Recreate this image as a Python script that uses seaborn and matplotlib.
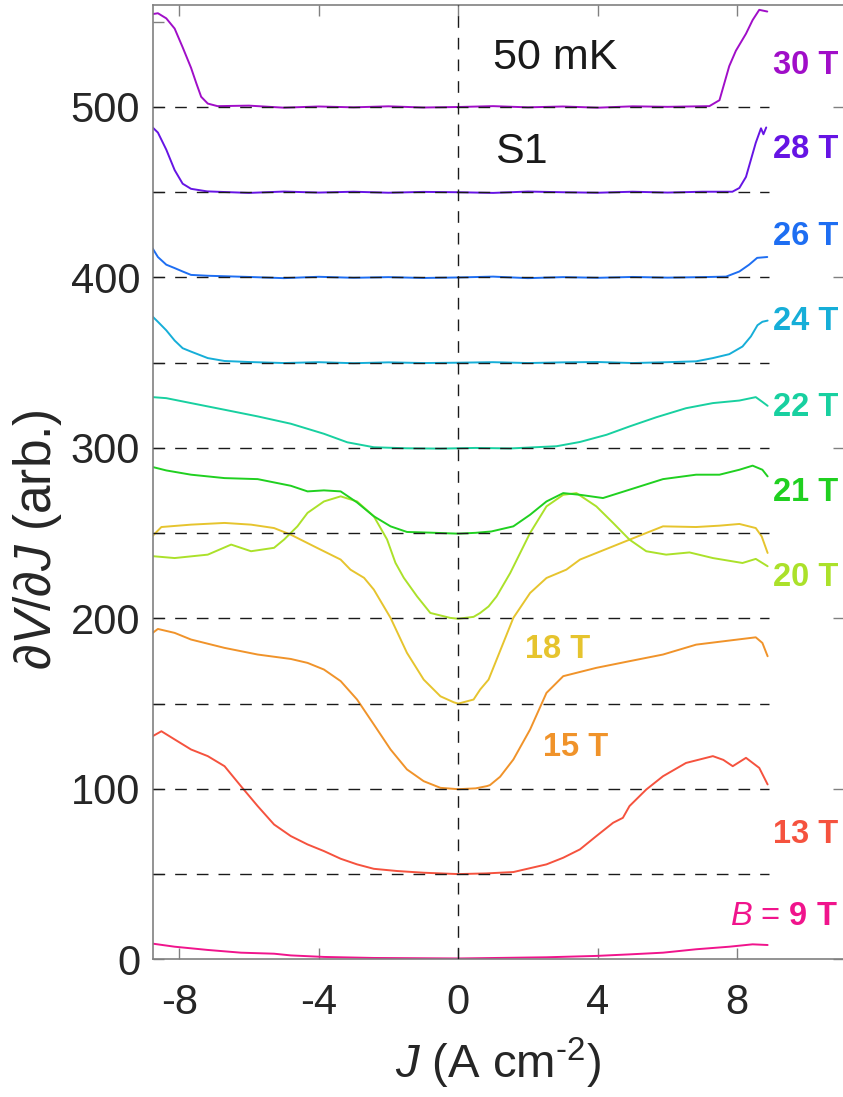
import matplotlib
matplotlib.use("Agg")
import matplotlib.pyplot as plt
from matplotlib.ticker import MultipleLocator
import seaborn as sns
import pandas as pd

# field labels, offsets and colours
fields = ["9", "13", "15", "18", "20", "21", "22", "24", "26", "28", "30"]
offsets = [0, 50, 100, 150, 200, 250, 300, 350, 400, 450, 500]
colors = ["#F0148C", "#F5523E", "#F0932A", "#E6C42E", "#ABE12A", "#20D020",
          "#18D0A0", "#16AED8", "#1E6EF2", "#6614E4", "#A00EC8"]

# curves (J in A cm^-2, dV/dJ incl. offset)
J_30 = [-8.76, -8.61, -8.37, -8.13, -7.9, -7.66, -7.51, -7.37, -7.18, -6.9, -6.0, -5.0, -4.0, -3.0,
        -2.0, -1.0, 0.0, 1.0, 2.0, 3.0, 4.0, 5.0, 6.0, 7.2, 7.49, 7.63, 7.77, 7.96, 8.25, 8.44, 8.63, 8.86]
V_30 = [554.5, 555, 552, 546, 535, 523, 514, 506, 502, 500.5, 500.8, 499.6, 500.3, 499.8,
        500.4, 499.7, 500, 500.5, 499.8, 500.3, 499.6, 500.4, 500.1, 500.5, 504, 514, 524, 533, 543, 551, 557, 556]

J_28 = [-8.76, -8.61, -8.37, -8.13, -7.9, -7.66, -7.2, -6, -5, -4, -3, -2, -1, 0, 1, 2, 3, 4, 5, 6, 7,
        7.86, 8.06, 8.25, 8.39, 8.53, 8.68, 8.75, 8.83]
V_28 = [488, 485, 475, 463, 455, 452, 450.5, 449.6, 450.4, 449.8, 450.3, 449.7, 450.2, 450, 449.6,
        450.4, 450.0, 449.7, 450.3, 449.8, 450.3, 450.3, 452.5, 459, 469, 479, 487.5, 484, 488]

J_26 = [-8.76, -8.61, -8.37, -8.13, -7.9, -7.66, -7.18, -6, -5, -4, -3, -2, -1, 0, 1, 2, 3, 4, 5, 6, 7,
        7.68, 8.06, 8.34, 8.57, 8.86]
V_26 = [417, 412, 407.5, 405.5, 403.5, 401.5, 401, 400.3, 399.6, 400.4, 399.8, 400.2, 399.7, 400,
        400.5, 399.6, 400.2, 399.8, 400.3, 399.9, 400.2, 400.5, 403.5, 407.5, 411.5, 412]

J_24 = [-8.76, -8.61, -8.37, -8.13, -7.9, -7.66, -7.42, -7.18, -6.7, -6, -5, -4, -3, -2, -1, 0, 1, 2,
        3, 4, 5, 6, 6.82, 7.3, 7.77, 8.15, 8.39, 8.58, 8.72, 8.87]
V_24 = [377, 374, 369, 363, 358.5, 356.5, 354.6, 352.7, 351, 350.4, 349.8, 350.3, 349.7, 350.2,
        349.8, 350, 350.3, 349.8, 350.2, 350.4, 349.8, 350.3, 350.8, 352.7, 355, 359.5, 365.4, 372, 374, 374.7]

J_22 = [-8.76, -8.37, -7.66, -6.7, -5.75, -4.8, -3.85, -3.18, -2.42, -1.5, -0.5, 0.5, 1.5, 2.0, 2.82,
        3.49, 4.25, 4.91, 5.68, 6.53, 7.3, 8.06, 8.53, 8.72, 8.87]
V_22 = [329.8, 329.2, 326.3, 322.4, 318.5, 314.2, 308.3, 303.3, 300.4, 299.8, 299.6, 300, 299.7,
        300.2, 301, 303.5, 307.7, 312.6, 318, 323.3, 326.3, 327.8, 329.8, 327, 324.7]

J_21 = [-8.76, -8.37, -7.66, -6.7, -5.75, -4.8, -4.32, -3.85, -3.37, -2.9, -2.42, -1.94, -1.47, -0.8,
        0, 0.5, 0.95, 1.58, 2.06, 2.53, 3.01, 3.49, 4.15, 4.91, 5.87, 6.82, 7.49, 8.06, 8.44, 8.72, 8.87]
V_21 = [288.8, 286.8, 284.3, 282.3, 281.7, 277.8, 274.5, 275.1, 274.5, 268, 259.9, 254, 250.7, 250.3,
        249.7, 250.2, 251, 254, 260.8, 268.6, 273.5, 272.5, 270.6, 275.5, 281.7, 284.3, 284.3, 287.2,
        289.6, 287.2, 283.3]

J_20 = [-8.76, -8.13, -7.18, -6.51, -5.94, -5.28, -4.99, -4.61, -4.32, -3.85, -3.37, -2.9, -2.42,
        -2.04, -1.8, -1.56, -1.18, -0.8, -0.23, 0, 0.44, 0.63, 0.87, 1.1, 1.49, 2.06, 2.53, 3.01, 3.39,
        3.96, 4.44, 4.91, 5.39, 5.96, 6.63, 7.3, 8.15, 8.53, 8.87]
V_20 = [236.5, 235.4, 237.4, 243.3, 239.4, 241.4, 246.3, 254, 261.9, 268.6, 271.6, 268.6, 259.9,
        246.3, 232.6, 223.8, 212.9, 203.2, 200.3, 199.8, 200.9, 203.2, 207, 212.9, 226.6, 250.1, 265.7,
        272.5, 273.5, 265.7, 256, 246.2, 239.4, 237.4, 238.7, 235.4, 232.5, 234.9, 230.6]

J_18 = [-8.76, -8.51, -7.66, -6.7, -5.94, -5.28, -4.8, -4.04, -3.37, -3.09, -2.7, -2.42, -1.94, -1.47,
        -0.99, -0.51, -0.13, 0.0, 0.44, 0.63, 0.87, 1.1, 1.58, 2.06, 2.53, 3.1, 3.49, 4.44, 5.39, 5.87,
        6.82, 7.49, 8.06, 8.53, 8.7, 8.87]
V_18 = [248.4, 253.6, 255, 256, 255, 253, 249.1, 241.3, 234.5, 228.6, 223.8, 216.9, 200.3, 179.8,
        164.1, 154.3, 150.8, 150, 152.4, 158.3, 164.1, 175.8, 200.3, 214.9, 223.7, 228.6, 234.5, 242.3,
        250.1, 254, 253.6, 254.4, 255.4, 253, 248.1, 238.4]

J_15 = [-8.76, -8.61, -8.13, -7.66, -6.7, -5.75, -4.8, -4.32, -3.85, -3.37, -2.9, -2.42, -1.94, -1.47,
        -0.99, -0.51, 0.0, 0.5, 0.82, 0.91, 1.2, 1.58, 2.06, 2.53, 3.01, 3.96, 4.91, 5.87, 6.82, 7.77,
        8.53, 8.72, 8.87]
V_15 = [191.5, 193.8, 191.5, 187.6, 182.7, 178.8, 176.2, 173.9, 170, 163.2, 152.4, 137.8, 123.1, 111.4,
        104.5, 100.6, 99.8, 100.3, 101.6, 102.2, 107.1, 117.2, 134.8, 156.3, 166.1, 171, 174.9, 178.8,
        184.6, 187, 188.9, 185.6, 177.8]

J_13 = [-8.76, -8.51, -8.13, -7.66, -7.18, -6.7, -6.23, -5.75, -5.28, -4.8, -4.32, -3.85, -3.37, -2.9,
        -2.42, -1.75, -0.99, 0.0, 0.8, 1.58, 2.53, 3.01, 3.49, 3.96, 4.44, 4.72, 4.91, 5.39, 5.87, 6.53,
        7.3, 7.6, 7.87, 8.25, 8.63, 8.87]
V_13 = [130.9, 133.8, 129, 123.1, 119.2, 113.3, 101.6, 89.9, 79.1, 72.3, 67.4, 63.5, 59, 55.7, 53.1,
        51.8, 50.8, 50, 50.4, 51.2, 55.7, 59.6, 64.5, 72.3, 80.1, 83, 89.9, 99.6, 107.4, 115.2, 119.2,
        117, 113.3, 118.2, 112.3, 102.6]

J_9 = [-8.76, -8.13, -7.18, -6.23, -5.28, -4.8, -3.85, -2.42, 0.0, 2.53, 3.96, 4.91, 5.87, 6.82, 7.77,
       8.44, 8.87]
V_9 = [9.2, 7.4, 5.5, 3.9, 3.3, 2.3, 1.4, 0.8, 0.5, 1.2, 2, 2.9, 3.9, 5.9, 7.4, 8.8, 8.4]

curves = {"9": (J_9, V_9), "13": (J_13, V_13), "15": (J_15, V_15), "18": (J_18, V_18),
          "20": (J_20, V_20), "21": (J_21, V_21), "22": (J_22, V_22), "24": (J_24, V_24),
          "26": (J_26, V_26), "28": (J_28, V_28), "30": (J_30, V_30)}

# label anchor points (J, V) for the field names
label_pos = {"30": (9.03, 524.6), "28": (9.03, 474.8), "26": (9.03, 424.3), "24": (9.03, 373.9),
             "22": (9.03, 324.0), "21": (9.03, 274.1), "20": (9.03, 223.7), "18": (1.91, 181.5),
             "15": (2.43, 124.0), "13": (9.03, 73.5)}

rows = []
for b in fields:
    js, vs = curves[b]
    for j, v in zip(js, vs):
        rows.append({"J": j, "V": v, "B": b})
df = pd.DataFrame(rows)
palette = dict(zip(fields, colors))

sns.set_theme(style="ticks")
plt.rcParams["font.family"] = ["Liberation Sans", "DejaVu Sans"]
plt.rcParams["mathtext.fontset"] = "custom"
plt.rcParams["mathtext.rm"] = "Liberation Sans"
plt.rcParams["mathtext.it"] = "Liberation Sans:italic"
plt.rcParams["mathtext.bf"] = "Liberation Sans:bold"
plt.rcParams["axes.unicode_minus"] = False

fig = plt.figure(figsize=(8.43, 10.97), dpi=100)
ax = fig.add_axes([0.1811, 0.1255, 0.8201, 0.8702])

sns.lineplot(data=df, x="J", y="V", hue="B", hue_order=fields, palette=palette,
             sort=False, estimator=None, legend=False, linewidth=1.4, ax=ax)

xl = (-8.76, 11.06)
yl = (0, 560)
for off in offsets[1:]:
    ax.plot([xl[0], 8.9], [off, off], color="k", lw=1.0, dashes=(8.4, 7.2), zorder=3)
ax.plot([0, 0], [yl[0], yl[1]], color="k", lw=1.0, dashes=(8.4, 7.2), zorder=3)

ax.set_xlim(*xl)
ax.set_ylim(*yl)
ax.set_xticks([-8, -4, 0, 4, 8])
ax.set_yticks([0, 100, 200, 300, 400, 500])
ax.yaxis.set_minor_locator(MultipleLocator(50))

for s in ax.spines.values():
    s.set_color("#808080")
    s.set_linewidth(1.2)
ax.tick_params(which="major", direction="in", top=True, right=True, length=8, width=1,
               color="#808080", labelsize=30, labelcolor="#262626")
ax.tick_params(axis="y", which="minor", direction="in", left=True, right=False, length=8,
               width=1, color="#808080")
ax.tick_params(axis="x", pad=17)
ax.tick_params(axis="y", pad=9)

ax.set_xlabel(r"$J$ (A cm$^{\text{-2}}$)", fontsize=34, color="#262626")
ax.xaxis.set_label_coords(0.5, -0.080)
ax.set_ylabel(r"$\partial V/\partial J$ (arb.)", fontsize=37, color="#262626")
ax.yaxis.set_label_coords(-0.128, 0.44)

ax.text(1.0, 529, "50 mK", fontsize=31, color="k", va="center", ha="left")
ax.text(1.05, 473.5, "S1", fontsize=31, color="k", va="center", ha="left")

for b, (x, y) in label_pos.items():
    ax.text(x, y, b + " T", fontsize=23.5, fontweight="bold", color=palette[b],
            va="center", ha="left")
ax.text(10.89, 25, r"$B$ = $\mathbf{9\ T}$", fontsize=23.5, color=palette["9"],
        va="center", ha="right")

fig.savefig("out.png", dpi=100)
plt.close(fig)
